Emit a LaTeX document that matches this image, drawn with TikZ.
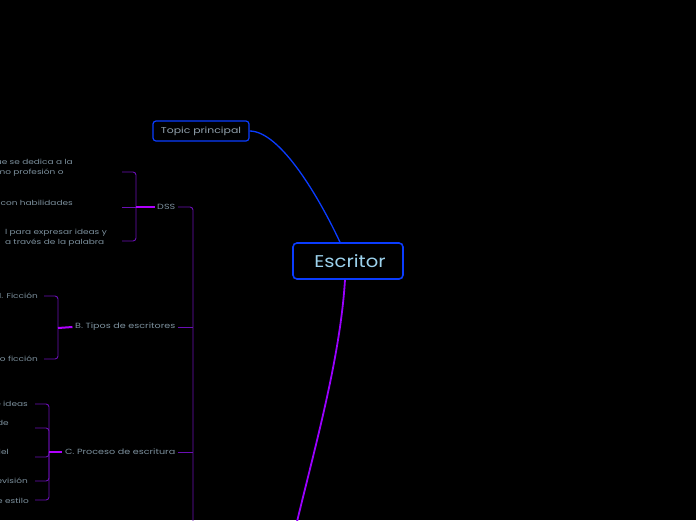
\documentclass[tikz,border=0pt]{standalone}
\usepackage{fontspec}
\setmainfont{Poppins}
\newfontfamily\mapfont{Poppins}[FakeStretch=1.28]
\newfontfamily\rootfont{Poppins}[FakeStretch=1.15]
\usetikzlibrary{positioning}
\definecolor{nodeblue}{HTML}{0A3CFF}
\definecolor{rootblue}{HTML}{9DD3EE}
\definecolor{leafgrey}{HTML}{7D919E}
\definecolor{mainpurple}{HTML}{9A00FF}
\definecolor{branchpurple}{HTML}{6A0FB5}
\definecolor{stubpurple}{HTML}{B000FF}
\tikzset{
  rootbox/.style={draw=nodeblue, line width=1.6pt, rounded corners=4pt, fill=black,
    text=rootblue, font=\rootfont\fontsize{17}{20}\selectfont,
    minimum width=110pt, minimum height=36pt, inner sep=0pt},
  topicbox/.style={draw=nodeblue, line width=1.2pt, rounded corners=3pt, fill=black,
    text=leafgrey!85!white, font=\mapfont\fontsize{8.5}{10}\selectfont,
    minimum width=96pt, minimum height=20pt, inner sep=0pt},
  leaftext/.style={text=leafgrey, font=\mapfont\fontsize{7}{9.5}\selectfont,
    inner sep=0pt, align=left, anchor=east},
  branchtext/.style={text=leafgrey, font=\mapfont\fontsize{7.5}{9}\selectfont,
    inner sep=2.5pt, anchor=east},
  bluelink/.style={draw=nodeblue, line width=1.3pt},
  mainlink/.style={draw=mainpurple, line width=1.8pt},
  trunk/.style={draw=branchpurple, line width=0.9pt, rounded corners=3pt},
  bracket/.style={draw=branchpurple, line width=0.9pt, rounded corners=3pt},
  stub/.style={draw=stubpurple, line width=2pt}
}
\begin{document}
\begin{tikzpicture}[x=1pt, y=-1pt]
    % achtergrond
    \fill[black] (0,0) rectangle (696,520);
    \clip (0,0) rectangle (696,520);

    % centrale topic
    \node[rootbox] (root) at (348,261) {\hspace*{4pt}Escritor};
    \node[topicbox] (topic) at (201,131) {Topic principal};
    \draw[bluelink] (topic.east) .. controls +(31,0) and +(-20,-43) .. ([xshift=-8pt]root.north);

    % hoofdtak naar beneden
    \coordinate (mainend) at (295,530);
    \draw[mainlink] ([xshift=-3pt]root.south) .. controls (340,360) and (314,450) .. (mainend);

    % takken
    \node[branchtext] (dss) at (178,207) {DSS};
    \node[branchtext] (tipos) at (178,327) {B. Tipos de escritores};
    \node[branchtext] (proceso) at (178,452) {C. Proceso de escritura};
    \coordinate (trunkend) at (193,530);
    \draw[trunk] (dss.east) -| (trunkend);
    \draw[trunk] (tipos.east) -- (tipos.east -| trunkend);
    \draw[trunk] (proceso.east) -- (proceso.east -| trunkend);

    % DSS
    \node[leaftext] (d1) at (73,167.5) {ue se dedica a la\\mo profesión o};
    \node[leaftext] (d2) at (73,203) {con habilidades};
    \node[leaftext] (d3) at (107,237.5) {l para expresar ideas y\\a través de la palabra};
    \coordinate (d1c) at (122,172);
    \coordinate (d2c) at (122,207);
    \coordinate (d3c) at (122,241);
    \coordinate (dssfork) at (136,207);
    \draw[bracket] (d1c) -| (dssfork) |- (d3c);
    \draw[bracket] (d2c) -- (dssfork);
    \draw[stub] (dssfork) -- (dss.west);

    % B. Tipos
    \node[leaftext] (b1) at (38,296) {1. Ficción};
    \node[leaftext] (b2) at (38,359) {o ficción};
    \coordinate (b1c) at (44,296);
    \coordinate (b2c) at (44,359);
    \coordinate (tiposfork) at (58,328);
    \draw[bracket] (b1c) -| (tiposfork) |- (b2c);
    \draw[stub] (tiposfork) -- (tipos.west);

    % C. Proceso
    \node[leaftext] (c1) at (28,404) {e ideas};
    \node[leaftext] (c2) at (9,423) {de};
    \node[leaftext] (c3) at (9,452) {del};
    \node[leaftext] (c4) at (28,481) {evisión};
    \node[leaftext] (c5) at (29,501) {e estilo};
    \coordinate (c1c) at (35,404);
    \coordinate (c2c) at (35,428);
    \coordinate (c3c) at (35,457);
    \coordinate (c4c) at (35,481);
    \coordinate (c5c) at (35,500);
    \coordinate (procesofork) at (49,452);
    \draw[bracket] (c1c) -| (procesofork) |- (c5c);
    \draw[bracket] (c2c) -| (procesofork);
    \draw[bracket] (c3c) -| (procesofork);
    \draw[bracket] (c4c) -| (procesofork);
    \draw[stub] (procesofork) -- (proceso.west);
\end{tikzpicture}
\end{document}
